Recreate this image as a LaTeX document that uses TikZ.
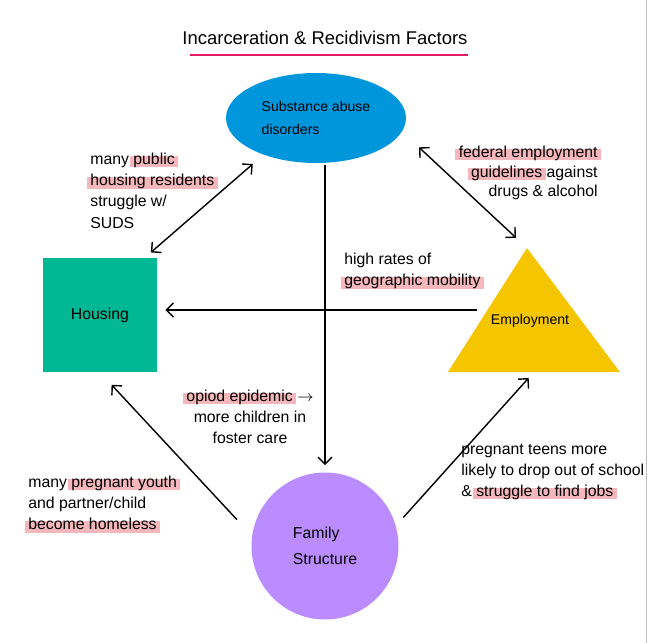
\documentclass[tikz,border=0pt]{standalone}
\usepackage{fontspec}
\setmainfont{Liberation Sans}
\usetikzlibrary{shapes.geometric, arrows.meta}
\definecolor{subsblue}{RGB}{0,150,220}
\definecolor{housegreen}{RGB}{0,184,148}
\definecolor{empyellow}{RGB}{245,197,0}
\definecolor{fampurple}{RGB}{186,140,255}
\definecolor{hlpink}{RGB}{245,182,188}
\definecolor{titlepink}{RGB}{229,24,106}
\newlength{\hlwd}
\newcommand{\marker}[1]{\settowidth{\hlwd}{#1}\makebox[0pt][l]{\hspace{-2pt}\textcolor{hlpink}{\rule[-1.5pt]{\dimexpr\hlwd+4pt\relax}{6.5pt}}}#1}

\begin{document}
\begin{tikzpicture}[x=0.02cm, y=-0.02cm,
        arr/.style={line width=0.8pt, -{Straight Barb[length=4pt, width=8pt]}},
        both/.style={line width=0.8pt, {Straight Barb[length=4pt, width=8pt]}-{Straight Barb[length=4pt, width=8pt]}},
        note/.style={font=\fontsize{9}{12}\selectfont, inner sep=0pt}]
        \useasboundingbox (0,0) rectangle (650,643);
        \draw[black!25] (646,0) -- (646,643);

        % title
        \node[font=\fontsize{10.5}{12}\selectfont] (title) at (325,38) {Incarceration \& Recidivism Factors};
        \draw[titlepink, line width=1pt] (190,55) -- (468,55);

        % factors
        \node[ellipse, fill=subsblue, minimum width=3.6cm, minimum height=1.8cm, align=left,
            font=\fontsize{8}{13.5}\selectfont] (subs) at (316,118) {Substance abuse\\disorders};
        \node[rectangle, fill=housegreen, minimum size=2.28cm, font=\fontsize{9}{11}\selectfont] (house) at (100,315) {Housing};
        \fill[empyellow] (527,248) coordinate (empTop) -- (620,372) -- (448,372) -- cycle;
        \coordinate (empBase) at (534,372);
        \coordinate (empW) at (487,310);
        \node[font=\fontsize{8}{10}\selectfont] (emp) at (530,321) {Employment};
        \node[circle, fill=fampurple, minimum size=2.94cm, align=left,
            font=\fontsize{9}{15}\selectfont] (fam) at (325,546) {Family\\Structure};

        % links
        \draw[both, shorten <=0.16cm, shorten >=0.28cm] (house.52) -- (subs.215);
        \draw[both, shorten <=0.46cm, shorten >=0.3cm] (subs.-9) -- (empTop);
        \draw[arr, shorten <=0.04cm, shorten >=0.14cm] (subs.south -| fam.north) -- (fam.north);
        \draw[arr, shorten <=0.2cm, shorten >=0.16cm] (empW) -- (empW -| house.east);
        \draw[arr, shorten <=0.44cm, shorten >=0.34cm] (fam.172) -- (house.south);
        \draw[arr, shorten <=0.22cm, shorten >=0.16cm] (fam.16) -- (empBase);

        % notes
        \node[note, align=left, anchor=north west] (noteHousing) at (90,153)
            {many \marker{public}\\\marker{housing residents}\\struggle w/\\SUDS};
        \node[note, align=right, anchor=north east, font=\fontsize{9}{11}\selectfont] (noteFederal) at (598,146)
            {\marker{federal employment}\\\marker{guidelines} against\\drugs \& alcohol};
        \node[note, align=left, anchor=north west] (noteMobility) at (344,253)
            {high rates of\\\marker{geographic mobility}};
        \node[note, align=center] (noteOpioid) at (250,417)
            {\marker{opiod epidemic} $\rightarrow$\\more children in\\foster care};
        \node[note, align=left, anchor=north west] (noteHomeless) at (28,476)
            {many \marker{pregnant youth}\\and partner/child\\\marker{become homeless}};
        \node[note, align=left, anchor=north west] (noteTeens) at (461,444)
            {pregnant teens more\\likely to drop out of school\\\& \marker{struggle to find jobs}};
\end{tikzpicture}
\end{document}
